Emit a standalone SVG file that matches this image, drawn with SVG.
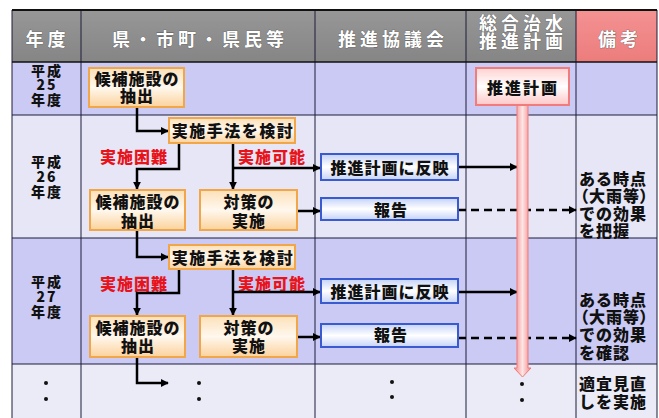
<svg xmlns="http://www.w3.org/2000/svg" width="659" height="418" viewBox="0 0 659 418">
<defs>
<style>
.t{font-family:"Noto Sans CJK JP","Noto Sans CJK SC",sans-serif;font-weight:900;font-size:16px;fill:#111;letter-spacing:1px}
.c{text-anchor:middle}
.h{fill:#fff;font-size:18px;letter-spacing:4px;font-weight:bold}
.hd{stroke:#555;stroke-width:0.6;paint-order:stroke}
.y{font-size:14px;letter-spacing:2px}
.p{font-feature-settings:"palt"}
.red{fill:#e8141c}
.ob{fill:url(#gOrange);stroke:#f2a64a;stroke-width:2}
.bb{fill:url(#gBlue);stroke:#3a5bd0;stroke-width:2}
.pb{fill:url(#gPink);stroke:#f07c7c;stroke-width:2}
.ln{stroke:#000;stroke-width:2.5;fill:none}
.dash{stroke-dasharray:8 5}
.grid{stroke:#1c1c3a;stroke-width:1;fill:none}
.dot{fill:#111}
</style>
<linearGradient id="gHead" x1="0" y1="0" x2="0" y2="1"><stop offset="0" stop-color="#979797"/><stop offset="1" stop-color="#858585"/></linearGradient>
<linearGradient id="gPinkHead" x1="0" y1="0" x2="0" y2="1"><stop offset="0" stop-color="#f49292"/><stop offset="1" stop-color="#ec7c7c"/></linearGradient>
<linearGradient id="gOrange" x1="0" y1="0" x2="0" y2="1"><stop offset="0" stop-color="#fce0b8"/><stop offset="0.5" stop-color="#fff8ee"/><stop offset="1" stop-color="#fbd29c"/></linearGradient>
<linearGradient id="gBlue" x1="0" y1="0" x2="0" y2="1"><stop offset="0" stop-color="#c4d2f8"/><stop offset="0.5" stop-color="#ffffff"/><stop offset="1" stop-color="#c4d2f8"/></linearGradient>
<linearGradient id="gPink" x1="0" y1="0" x2="0" y2="1"><stop offset="0" stop-color="#ffd2d2"/><stop offset="0.5" stop-color="#ffffff"/><stop offset="1" stop-color="#ffc6c6"/></linearGradient>
<linearGradient id="gBar" x1="0" y1="0" x2="1" y2="0"><stop offset="0" stop-color="#f08484"/><stop offset="0.5" stop-color="#ffe6e6"/><stop offset="1" stop-color="#f08484"/></linearGradient>
<marker id="arr" viewBox="0 0 10 10" refX="9" refY="5" markerWidth="8" markerHeight="8" markerUnits="userSpaceOnUse" orient="auto"><path d="M0,0 L10,5 L0,10 z" fill="#000"/></marker>
</defs>

<g id="table">
<rect x="0" y="0" width="659" height="418" fill="#fff"/>
<rect x="12" y="10" width="564" height="52" fill="url(#gHead)"/>
<rect x="576" y="10" width="81" height="52" fill="url(#gPinkHead)"/>
<rect x="12" y="62" width="645" height="53" fill="#cacaf4"/>
<rect x="12" y="115" width="645" height="123" fill="#e6e6f7"/>
<rect x="12" y="238" width="645" height="126" fill="#cacaf4"/>
<rect x="12" y="364" width="645" height="54" fill="#ebebf8"/>
<path class="grid" d="M12,10V418M81,10V418M315,10V418M466,10V418M576,10V418M657,10V418M12,115H657M12,238H657M12,364H657"/>
<path d="M12,10H657" stroke="#111" stroke-width="2"/>
<path d="M12,62H657" stroke="#111" stroke-width="1.5"/>
<text class="t h hd c" x="47.5" y="46">年度</text>
<text class="t h hd c" x="200" y="46">県・市町・県民等</text>
<text class="t h hd c" x="393" y="46">推進協議会</text>
<text class="t h hd c" x="523" y="30">総合治水</text>
<text class="t h hd c" x="523" y="48">推進計画</text>
<text class="t h hd c" x="620" y="46">備考</text>
<text class="t y c" x="47" y="76">平成</text>
<text class="t y c" x="47" y="90">25</text>
<text class="t y c" x="47" y="105">年度</text>
<text class="t y c" x="47" y="167">平成</text>
<text class="t y c" x="47" y="182">26</text>
<text class="t y c" x="47" y="197">年度</text>
<text class="t y c" x="47" y="287">平成</text>
<text class="t y c" x="47" y="302">27</text>
<text class="t y c" x="47" y="317">年度</text>
<circle class="dot" cx="46" cy="383" r="2"/><circle class="dot" cx="46" cy="399" r="2"/>
<circle class="dot" cx="199" cy="383" r="2"/><circle class="dot" cx="199" cy="399" r="2"/>
<circle class="dot" cx="392" cy="382" r="2"/><circle class="dot" cx="392" cy="397" r="2"/>
<circle class="dot" cx="522" cy="384" r="2"/><circle class="dot" cx="522" cy="400" r="2"/>
<text class="t" x="579" y="185">ある時点</text>
<text class="t p" x="580" y="202">（大雨等）</text>
<text class="t" x="579" y="220">での効果</text>
<text class="t" x="579" y="237">を把握</text>
<text class="t" x="579" y="306">ある時点</text>
<text class="t p" x="580" y="323">（大雨等）</text>
<text class="t" x="579" y="341">での効果</text>
<text class="t" x="579" y="359">を確認</text>
<text class="t" x="579" y="390">適宜見直</text>
<text class="t" x="579" y="408">しを実施</text>
<text class="t red c" x="134" y="163">実施困難</text>
<text class="t red c" x="272" y="163">実施可能</text>
<text class="t red c" x="134" y="290">実施困難</text>
<text class="t red c" x="272" y="290">実施可能</text>
</g>

<g id="connectors">
<path class="ln" d="M137,107V131H168" marker-end="url(#arr)"/>
<path class="ln" d="M179,143V169H137V189" marker-end="url(#arr)"/>
<path class="ln" d="M233,143V189" marker-end="url(#arr)"/>
<path class="ln" d="M233,168H320" marker-end="url(#arr)"/>
<path class="ln" d="M297,211H320" marker-end="url(#arr)"/>
<path class="ln" d="M458,167H517" marker-end="url(#arr)"/>
<path class="ln dash" d="M458,210H576" marker-end="url(#arr)"/>
<path class="ln" d="M137,230V257H168" marker-end="url(#arr)"/>
<path class="ln" d="M179,269V293H137V315" marker-end="url(#arr)"/>
<path class="ln" d="M233,269V315" marker-end="url(#arr)"/>
<path class="ln" d="M233,292H320" marker-end="url(#arr)"/>
<path class="ln" d="M297,337H320" marker-end="url(#arr)"/>
<path class="ln" d="M458,292H517" marker-end="url(#arr)"/>
<path class="ln dash" d="M458,338H576" marker-end="url(#arr)"/>
<path class="ln" d="M137,357V383H168" marker-end="url(#arr)"/>
</g>

<g id="plan-arrow">
<path d="M517,105V368H514L522.5,377L531,368H528V105Z" fill="url(#gBar)" stroke="#f07a7a" stroke-width="1"/>
</g>

<g id="n-plan">
<rect class="pb" x="476" y="68" width="93" height="37"/>
<text class="t c" x="523" y="94" style="letter-spacing:2px">推進計画</text>
</g>
<g id="n-cand25">
<rect class="ob" x="89" y="68" width="95" height="39"/>
<text class="t c" x="137" y="85">候補施設の</text>
<text class="t c" x="137" y="102">抽出</text>
</g>
<g id="n-method26">
<rect class="ob" x="169" y="118" width="126" height="25"/>
<text class="t c" x="233" y="137" style="letter-spacing:1.5px">実施手法を検討</text>
</g>
<g id="n-cand26">
<rect class="ob" x="90" y="190" width="95" height="40"/>
<text class="t c" x="138" y="208">候補施設の</text>
<text class="t c" x="138" y="227">抽出</text>
</g>
<g id="n-measure26">
<rect class="ob" x="200" y="190" width="97" height="40"/>
<text class="t c" x="249" y="208">対策の</text>
<text class="t c" x="249" y="227">実施</text>
</g>
<g id="n-reflect26">
<rect class="bb" x="321" y="154" width="137" height="26"/>
<text class="t c" x="390" y="174">推進計画に反映</text>
</g>
<g id="n-report26">
<rect class="bb" x="321" y="198" width="137" height="22"/>
<text class="t c" x="391" y="216">報告</text>
</g>
<g id="n-method27">
<rect class="ob" x="169" y="245" width="126" height="24"/>
<text class="t c" x="233" y="264" style="letter-spacing:1.5px">実施手法を検討</text>
</g>
<g id="n-cand27">
<rect class="ob" x="90" y="316" width="95" height="41"/>
<text class="t c" x="138" y="334">候補施設の</text>
<text class="t c" x="138" y="352">抽出</text>
</g>
<g id="n-measure27">
<rect class="ob" x="200" y="316" width="97" height="41"/>
<text class="t c" x="249" y="334">対策の</text>
<text class="t c" x="249" y="352">実施</text>
</g>
<g id="n-reflect27">
<rect class="bb" x="321" y="279" width="137" height="24"/>
<text class="t c" x="390" y="298">推進計画に反映</text>
</g>
<g id="n-report27">
<rect class="bb" x="321" y="324" width="137" height="23"/>
<text class="t c" x="391" y="341">報告</text>
</g>
</svg>
